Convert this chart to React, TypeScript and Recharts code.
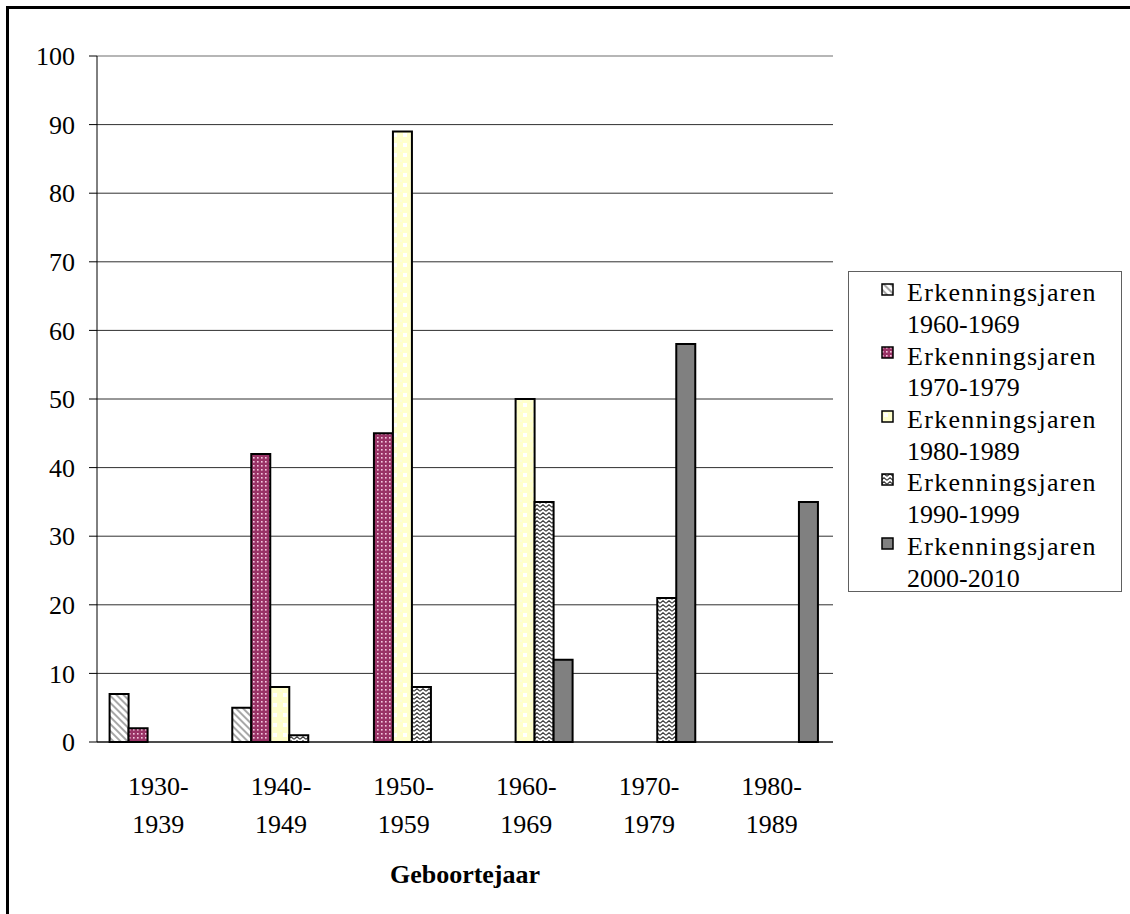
import React from 'react';
import { BarChart, Bar, XAxis, YAxis, CartesianGrid, Legend, ReferenceLine } from 'recharts';

const categories = ['1930-1939', '1940-1949', '1950-1959', '1960-1969', '1970-1979', '1980-1989'];
const seriesNames = [
  'Erkenningsjaren 1960-1969',
  'Erkenningsjaren 1970-1979',
  'Erkenningsjaren 1980-1989',
  'Erkenningsjaren 1990-1999',
  'Erkenningsjaren 2000-2010',
];
const s1960 = [7, 5, 0, 0, 0, 0];
const s1970 = [2, 42, 45, 0, 0, 0];
const s1980 = [0, 8, 89, 50, 0, 0];
const s1990 = [0, 1, 8, 35, 21, 0];
const s2000 = [0, 0, 0, 12, 58, 35];
const yTicks = [0, 10, 20, 30, 40, 50, 60, 70, 80, 90, 100];

const seriesValues = [s1960, s1970, s1980, s1990, s2000];
const keys = ['a', 'b', 'c', 'd', 'e'];
const fills = ['url(#p1)', 'url(#p2)', 'url(#p3)', 'url(#p4)', '#808080'];

const data = categories.map((c, i) => {
  const row: any = { cat: c };
  keys.forEach((k, j) => {
    row[k] = seriesValues[j][i];
  });
  return row;
});

const FONT = '"Liberation Serif", "Times New Roman", serif';

const CatTick = (props: any) => {
  const { x, y, payload } = props;
  const parts = String(payload.value).split('-');
  return (
    <text x={x} y={y + 53} textAnchor="middle" fontFamily={FONT} fontSize={26} fill="#000">
      <tspan x={x}>{parts[0] + '-'}</tspan>
      <tspan x={x} dy={38}>{parts[1]}</tspan>
    </text>
  );
};

const LINE = 31.7;

const LegendContent = (props: any) => {
  const { payload } = props;
  return (
    <div
      style={{
        position: 'relative',
        width: 274,
        height: 321,
        boxSizing: 'border-box',
        border: '1px solid #606060',
        background: '#fff',
        fontFamily: FONT,
        fontSize: 26,
        color: '#000',
      }}
    >
      {(payload || []).map((item: any, i: number) => {
        const name = String(item.value);
        const idx = name.lastIndexOf(' ');
        const l1 = name.slice(0, idx);
        const l2 = name.slice(idx + 1);
        const top = 6.2 + LINE * 2 * i;
        return (
          <div key={i}>
            <svg
              width={13}
              height={13}
              style={{ position: 'absolute', left: 32, top: 11 + LINE * 2 * i }}
            >
              <rect x={1} y={1} width={11} height={11} fill={item.color} stroke="#000" strokeWidth={1.5} />
            </svg>
            <div style={{ position: 'absolute', left: 58, top, lineHeight: '30px', whiteSpace: 'nowrap', letterSpacing: 1.3 }}>
              {l1}
            </div>
            <div style={{ position: 'absolute', left: 58, top: top + LINE, lineHeight: '30px', whiteSpace: 'nowrap' }}>
              {l2}
            </div>
          </div>
        );
      })}
    </div>
  );
};

export default function App() {
  return (
    <div
      style={{
        position: 'fixed',
        left: 0,
        top: 0,
        width: 1130,
        height: 914,
        overflow: 'hidden',
        background: '#fff',
      }}
    >
      <div
        style={{
          position: 'absolute',
          left: 6,
          top: 6,
          width: 1200,
          height: 1000,
          border: '3px solid #000',
          boxSizing: 'border-box',
        }}
      />
      <div style={{ position: 'absolute', left: 0, top: 0 }}>
        <BarChart
          width={1130}
          height={914}
          data={data}
          margin={{ top: 56, right: 297, bottom: 62, left: 37 }}
          barCategoryGap={12.6}
          barGap={0}
        >
          <defs>
            <pattern id="p1" patternUnits="userSpaceOnUse" width={5} height={5} patternTransform="rotate(-45)">
              <rect width={5} height={5} fill="#ffffff" />
              <rect x={0} y={0} width={2} height={5} fill="#a8a8a8" />
            </pattern>
            <pattern id="p2" patternUnits="userSpaceOnUse" width={4} height={4}>
              <rect width={4} height={4} fill="#993366" />
              <rect x={1} y={1} width={1.6} height={1.6} fill="#f4c8e0" />
            </pattern>
            <pattern id="p3" patternUnits="userSpaceOnUse" width={10} height={10}>
              <rect width={10} height={10} fill="#ffffcc" />
              <rect x={3} y={3} width={4} height={4} fill="#ffffff" />
              <rect x={0} y={0} width={2} height={2} fill="#fbfbe0" />
            </pattern>
            <pattern id="p4" patternUnits="userSpaceOnUse" width={6} height={4}>
              <rect width={6} height={4} fill="#ffffff" />
              <path d="M0,3.3 L3,0.7 L6,3.3" stroke="#404040" strokeWidth={1.2} fill="none" />
            </pattern>
          </defs>
          <CartesianGrid vertical={false} stroke="#303030" strokeWidth={1} />
          <XAxis
            xAxisId="grid"
            type="number"
            domain={[0, 6]}
            ticks={[0, 1, 2, 3, 4, 5, 6]}
            allowDataOverflow
            axisLine={false}
            tickLine={{ stroke: '#000' }}
            tickSize={8}
            tickFormatter={() => ''}
            height={0}
          />
          <XAxis
            dataKey="cat"
            interval={0}
            tickLine={false}
            tickSize={0}
            tickMargin={0}
            axisLine={{ stroke: '#000' }}
            tick={<CatTick />}
            height={110}
          />
          <YAxis
            domain={[0, 100]}
            ticks={yTicks}
            interval={0}
            width={60}
            tickSize={8}
            tickMargin={14}
            axisLine={{ stroke: '#000' }}
            tickLine={{ stroke: '#000' }}
            tick={{ fontFamily: FONT, fontSize: 26, fill: '#000' }}
          />
          <ReferenceLine y={100} stroke="#c0c0c0" strokeWidth={1.5} />
          <ReferenceLine x={6} xAxisId="grid" stroke="#c0c0c0" strokeWidth={2} />
          {keys.map((k, j) => (
            <Bar
              key={k}
              dataKey={k}
              name={seriesNames[j]}
              fill={fills[j]}
              stroke="#000"
              strokeWidth={2}
              isAnimationActive={false}
            />
          ))}
          <Legend
            layout="horizontal"
            verticalAlign="middle"
            align="center"
            content={<LegendContent />}
            wrapperStyle={{ left: 848, top: 271, width: 274, height: 321 }}
          />
        </BarChart>
      </div>
      <div
        style={{
          position: 'absolute',
          left: 0,
          top: 860,
          width: 930,
          textAlign: 'center',
          fontFamily: FONT,
          fontSize: 26,
          fontWeight: 'bold',
          lineHeight: '30px',
          color: '#000',
        }}
      >
        Geboortejaar
      </div>
    </div>
  );
}
